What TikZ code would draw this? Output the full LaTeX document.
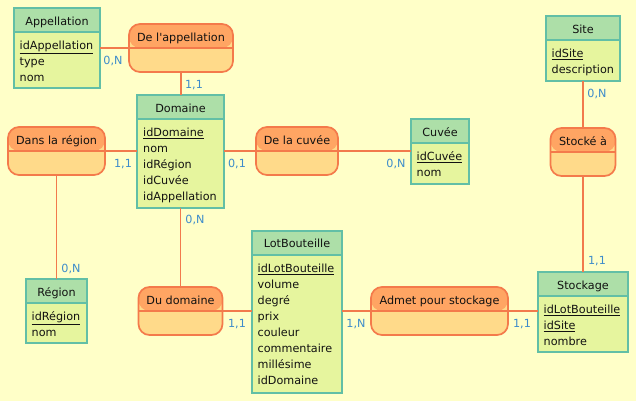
\documentclass[tikz,border=0pt]{standalone}
\usepackage{fontspec}
\setmainfont{DejaVu Sans}
\definecolor{bg}{HTML}{FFFFC8}
\definecolor{entstroke}{HTML}{62BFA6}
\definecolor{enthead}{HTML}{ADDFA8}
\definecolor{entbody}{HTML}{E6F59E}
\definecolor{asstroke}{HTML}{F47A4B}
\definecolor{ashead}{HTML}{FFA563}
\definecolor{asbody}{HTML}{FFDA8A}
\definecolor{linkc}{HTML}{F27A4C}
\definecolor{cardc}{HTML}{3D8CCB}
\definecolor{txt}{HTML}{111111}
\begin{document}
\begin{tikzpicture}[x=1pt,y=-1pt,
  every node/.style={font=\fontsize{11.2}{14}\selectfont, text=txt},
  entity/.style={draw=entstroke, line width=1.7pt, fill=entbody, inner sep=0pt, outer sep=0pt,
    path picture={\fill[enthead] (path picture bounding box.north west) rectangle ([yshift=-24pt]path picture bounding box.north east);
      \draw[entstroke, line width=1.7pt] ([yshift=-24pt]path picture bounding box.north west) -- ([yshift=-24pt]path picture bounding box.north east);}},
  assoc/.style={draw=asstroke, line width=1.7pt, fill=asbody, rounded corners=11pt, inner sep=0pt, outer sep=0pt,
    path picture={\fill[ashead] (path picture bounding box.north west) rectangle ([yshift=-24pt]path picture bounding box.north east);
      \draw[asstroke, line width=1.7pt] ([yshift=-24pt]path picture bounding box.north west) -- ([yshift=-24pt]path picture bounding box.north east);}},
  ttl/.style={inner sep=0pt, text height=8pt, text depth=2pt, yshift=-1.8pt},
  attr/.style={anchor=west, inner sep=0pt, text height=8pt, text depth=2pt, yshift=-1.8pt},
  link/.style={draw=linkc, line width=1.7pt},
  card/.style={text=cardc, inner sep=0pt, text height=8pt, text depth=2pt, yshift=-1.2pt}
]
\useasboundingbox (0,0) rectangle (636,401);
\fill[bg] (0,0) rectangle (636,401);

% ---------- entities ----------
\node[entity, minimum width=86pt, minimum height=80pt] (app) at (57,48) {};
\node[ttl] (app-t) at (57,21) {Appellation};
\foreach \t [count=\i] in {{\underline{idAppellation}},type,nom}
  \node[attr] (app-\i) at (19.5,{45+16*(\i-1)}) {\t};

\node[entity, minimum width=87pt, minimum height=113pt] (dom) at (180.5,151.5) {};
\node[ttl] (dom-t) at (180.5,108) {Domaine};
\foreach \t [count=\i] in {{\underline{idDomaine}},nom,idRégion,idCuvée,idAppellation}
  \node[attr] (dom-\i) at (143,{132+16*(\i-1)}) {\t};

\node[entity, minimum width=58pt, minimum height=65pt] (cuv) at (440,151.5) {};
\node[ttl] (cuv-t) at (440,132) {Cuvée};
\foreach \t [count=\i] in {{\underline{idCuvée}},nom}
  \node[attr] (cuv-\i) at (416.5,{156+16*(\i-1)}) {\t};

\node[entity, minimum width=61pt, minimum height=64pt] (reg) at (56.5,311) {};
\node[ttl] (reg-t) at (56.5,292) {Région};
\foreach \t [count=\i] in {{\underline{idRégion}},nom}
  \node[attr] (reg-\i) at (31.5,{316+16*(\i-1)}) {\t};

\node[entity, minimum width=74pt, minimum height=65pt] (site) at (583,48.5) {};
\node[ttl] (site-t) at (583,29) {Site};
\foreach \t [count=\i] in {{\underline{idSite}},description}
  \node[attr] (site-\i) at (551.5,{53+16*(\i-1)}) {\t};

\node[entity, minimum width=90pt, minimum height=80pt] (sto) at (583,312) {};
\node[ttl] (sto-t) at (583,285) {Stockage};
\foreach \t [count=\i] in {{\underline{idLotBouteille}},{\underline{idSite}},nombre}
  \node[attr] (sto-\i) at (543.5,{309+16*(\i-1)}) {\t};

\node[entity, minimum width=90pt, minimum height=162pt] (lot) at (297,312) {};
\node[ttl] (lot-t) at (297,243) {LotBouteille};
\foreach \t [count=\i] in {{\underline{idLotBouteille}},volume,degré,prix,couleur,commentaire,millésime,idDomaine}
  \node[attr] (lot-\i) at (257.5,{268+16*(\i-1)}) {\t};

% ---------- associations ----------
\node[assoc, minimum width=104pt, minimum height=48pt] (dapp) at (181,48) {};
\node[ttl] (dapp-t) at (181,37) {De l\textquotesingle appellation};

\node[assoc, minimum width=97pt, minimum height=48pt] (dlr) at (56.5,151) {};
\node[ttl] (dlr-t) at (56.5,140) {Dans la région};

\node[assoc, minimum width=82pt, minimum height=48pt] (ddc) at (297,151) {};
\node[ttl] (ddc-t) at (297,140) {De la cuvée};

\node[assoc, minimum width=65pt, minimum height=48pt] (stk) at (583,152) {};
\node[ttl] (stk-t) at (583,141) {Stocké à};

\node[assoc, minimum width=84pt, minimum height=48pt] (ddo) at (180.5,311) {};
\node[ttl] (ddo-t) at (180.5,300) {Du domaine};

\node[assoc, minimum width=137pt, minimum height=48pt] (adm) at (439.5,311) {};
\node[ttl] (adm-t) at (439.5,300) {Admet pour stockage};

% ---------- links ----------
\draw[link] (dapp.west) -- (dapp.west -| app.east);
\draw[link] (dapp.south) -- (dapp.south |- dom.north);
\draw[link] (dlr.east) -- (dlr.east -| dom.west);
\draw[link] (dlr.south) -- (dlr.south |- reg.north);
\draw[link] (ddc.west) -- (ddc.west -| dom.east);
\draw[link] (ddc.east) -- (ddc.east -| cuv.west);
\draw[link] (stk.north) -- (stk.north |- site.south);
\draw[link] (stk.south) -- (stk.south |- sto.north);
\draw[link] (ddo.north) -- (ddo.north |- dom.south);
\draw[link] (ddo.east) -- (ddo.east -| lot.west);
\draw[link] (adm.west) -- (adm.west -| lot.east);
\draw[link] (adm.east) -- (adm.east -| sto.west);

% ---------- cardinalities ----------
\node[card] (c1) at (113,60) {0,N};
\node[card] (c2) at (194,84) {1,1};
\node[card] (c3) at (123,163) {1,1};
\node[card] (c4) at (71,268) {0,N};
\node[card] (c5) at (237,163) {0,1};
\node[card] (c6) at (396,163) {0,N};
\node[card] (c7) at (597,93) {0,N};
\node[card] (c8) at (597,260) {1,1};
\node[card] (c9) at (195,219) {0,N};
\node[card] (c10) at (237,323) {1,1};
\node[card] (c11) at (356,323) {1,N};
\node[card] (c12) at (522,323) {1,1};
\end{tikzpicture}
\end{document}
